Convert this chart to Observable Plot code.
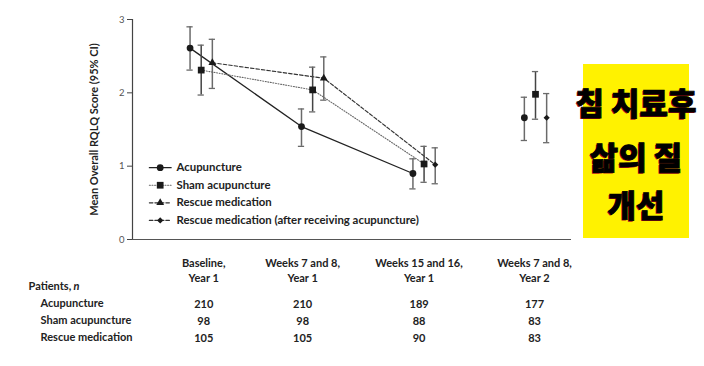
<!DOCTYPE html>
<html><head><meta charset="utf-8">
<script src="https://cdn.jsdelivr.net/npm/d3@7"></script>
<script src="https://cdn.jsdelivr.net/npm/@observablehq/plot@0.6"></script>
<style>
body{margin:0;background:#fff;}
#wrap{position:relative;width:704px;height:366px;overflow:hidden;background:#fff;}
#wrap svg{display:block;}
#note{position:absolute;left:583px;top:64px;width:106px;height:174px;background:#fff200;}
#note div{position:absolute;left:-40px;right:-40px;text-align:center;font-family:"Noto Sans CJK KR";font-weight:900;font-size:31px;color:#000;line-height:31px;-webkit-text-stroke:0.8px #000;text-shadow:-1px 1px 0 #b5121b;white-space:nowrap;}
</style></head>
<body>
<div id="wrap"></div>
<script>
// ---- data ----
const periods = ["Baseline,\nYear 1", "Weeks 7 and 8,\nYear 1", "Weeks 15 and 16,\nYear 1", "Weeks 7 and 8,\nYear 2"];
const seriesNames = ["Acupuncture", "Sham acupuncture", "Rescue medication", "Rescue medication (after receiving acupuncture)"];
const acuMean  = [2.61, 1.54, 0.90, 1.66];
const acuLow   = [2.31, 1.27, 0.69, 1.35];
const acuHigh  = [2.90, 1.78, 1.10, 1.94];
const shamMean = [2.31, 2.04, 1.03, 1.98];
const shamLow  = [1.97, 1.74, 0.78, 1.64];
const shamHigh = [2.65, 2.35, 1.27, 2.29];
const rescueMean = [2.41, 2.20, null, null];
const rescueLow  = [2.06, 1.90, null, null];
const rescueHigh = [2.73, 2.49, null, null];
const afterMean = [null, null, 1.02, 1.66];
const afterLow  = [null, null, 0.76, 1.32];
const afterHigh = [null, null, 1.25, 1.99];
const tableRows = ["Acupuncture", "Sham acupuncture", "Rescue medication"];
const nAcu    = [210, 210, 189, 177];
const nSham   = [98, 98, 88, 83];
const nRescue = [105, 105, 90, 83];
const yTicks = [0, 1, 2, 3];
const yLabel = "Mean Overall RQLQ Score (95% CI)";
const noteLines = ["침 치료후", "삶의 질", "개선"];

// ---- styling ----
const FONT = "Lato,'Open Sans',sans-serif";
const INK = "#222";
const series = [
  {name: seriesNames[0], mean: acuMean, low: acuLow, high: acuHigh, off: -0.1, symbol: "circle", r: 3.4, dash: null, stroke: "#222", sw: 1.3},
  {name: seriesNames[1], mean: shamMean, low: shamLow, high: shamHigh, off: 0, symbol: "square", r: 3.8, dash: "1,1.6", stroke: "#666", sw: 1.1},
  {name: seriesNames[2], mean: rescueMean, low: rescueLow, high: rescueHigh, off: 0.1, symbol: "triangle", r: 2.9, dash: "3.5,2", stroke: "#333", sw: 1.2},
  {name: seriesNames[3], mean: afterMean, low: afterLow, high: afterHigh, off: 0.1, symbol: "diamond2", r: 2.8, dash: "3.5,2", stroke: "#333", sw: 1.2}
];
const pts = [];
series.forEach((s, k) => s.mean.forEach((m, i) => {
  if (m != null) pts.push({k, name: s.name, x: i + s.off, y: m, lo: s.low[i], hi: s.high[i]});
}));
const P = (k, i) => pts.find(p => p.k === k && Math.round(p.x) === i);
const lines = [
  {k: 0, pts: [P(0,0), P(0,1), P(0,2)]},
  {k: 1, pts: [P(1,0), P(1,1), P(1,2)]},
  {k: 2, pts: [P(2,0), P(2,1), P(3,2)]}
];
const xDomain = [-0.6165, 3.323];
const capW = 0.028;

const marks = [];
// axes
marks.push(Plot.axisY({ticks: yTicks, tickFormat: d => String(d), tickSize: 5, tickPadding: 3, label: null, fontSize: 9.5, color: "#555", stroke: "#444"}));
marks.push(Plot.text([yLabel], {frameAnchor: "left", textAnchor: "middle", rotate: -90, dx: -38, fontSize: 11, fill: INK, fontWeight: 700}));
marks.push(Plot.ruleX([xDomain[0]], {stroke: "#444", strokeWidth: 1.2}));
marks.push(Plot.ruleY([0], {stroke: "#555", strokeWidth: 1.2}));
// connecting lines
lines.forEach(l => {
  const s = series[l.k];
  marks.push(Plot.line(l.pts, {x: "x", y: "y", stroke: s.stroke, strokeWidth: s.sw, strokeDasharray: s.dash}));
});
// error bars
marks.push(Plot.ruleX(pts, {x: "x", y1: "lo", y2: "hi", stroke: d => d.k === 1 ? "#444" : "#6a6a6a", strokeWidth: 1.5}));
marks.push(Plot.ruleY(pts, {y: "lo", x1: d => d.x - capW, x2: d => d.x + capW, stroke: "#6a6a6a", strokeWidth: 1.3}));
marks.push(Plot.ruleY(pts, {y: "hi", x1: d => d.x - capW, x2: d => d.x + capW, stroke: "#6a6a6a", strokeWidth: 1.3}));
// markers
series.forEach((s, k) => {
  marks.push(Plot.dot(pts.filter(p => p.k === k), {x: "x", y: "y", symbol: s.symbol, r: s.r, fill: "#1a1a1a", stroke: "none"}));
});
// legend (inside plot area)
const lgX0 = -0.465, lgX1 = -0.27, lgXm = -0.368, lgXt = -0.222;
series.forEach((s, k) => {
  const yy = 0.98 - k * 0.24;
  marks.push(Plot.line([[lgX0, yy], [lgX1, yy]], {stroke: s.stroke, strokeWidth: s.sw, strokeDasharray: s.dash}));
  marks.push(Plot.dot([[lgXm, yy]], {symbol: s.symbol, r: s.r, fill: "#1a1a1a", stroke: "none"}));
  marks.push(Plot.text([s.name], {x: lgXt, y: yy, textAnchor: "start", fontSize: 11.4, fontWeight: 700, fill: INK}));
});

const chart = Plot.plot({
  width: 704, height: 245,
  marginTop: 19, marginBottom: 6, marginLeft: 132, marginRight: 133,
  style: {fontFamily: FONT, fontSize: "11px", color: INK, background: "transparent"},
  x: {domain: xDomain, axis: null},
  y: {domain: [0, 3], axis: null},
  marks
});

// ---- table ----
const rowKeys = ["head", "Patients", ...tableRows];
const colNudge = [2.5, -10, -5, -1];
const nByRow = [nAcu, nSham, nRescue];
const tMarks = [];
periods.forEach((p, i) => {
  const cells = [{x: i, y: "head", t: p}];
  tableRows.forEach((r, j) => cells.push({x: i, y: r, t: String(nByRow[j][i])}));
  tMarks.push(Plot.text(cells, {x: "x", y: "y", text: "t", dx: colNudge[i], lineHeight: 1.36, fontSize: 11, fontWeight: 700, fill: INK}));
});
tMarks.push(Plot.text(["Patients,"], {y: () => "Patients", frameAnchor: "left", textAnchor: "start", dx: -104, fontSize: 11, fontWeight: 700, fill: INK}));
tMarks.push(Plot.text(["n"], {y: () => "Patients", frameAnchor: "left", textAnchor: "start", dx: -59, fontSize: 11, fontWeight: 700, fontStyle: "italic", fill: INK}));
tMarks.push(Plot.text(tableRows, {y: d => d, frameAnchor: "left", textAnchor: "start", dx: -92, fontSize: 11, fontWeight: 700, fill: INK}));

const table = Plot.plot({
  width: 704, height: 121,
  marginTop: 23, marginBottom: 28, marginLeft: 132, marginRight: 133,
  style: {fontFamily: FONT, fontSize: "11px", color: INK, background: "transparent"},
  x: {domain: xDomain, axis: null},
  y: {type: "point", domain: rowKeys, axis: null, padding: 0},
  marks: tMarks
});

const wrap = document.getElementById("wrap");
wrap.appendChild(chart);
wrap.appendChild(table);
const note = document.createElement("div");
note.id = "note";
const tops = [22, 76, 124];
noteLines.forEach((t, i) => {
  const d = document.createElement("div");
  d.textContent = t;
  d.style.top = tops[i] + "px";
  note.appendChild(d);
});
wrap.appendChild(note);
</script>
</body></html>
